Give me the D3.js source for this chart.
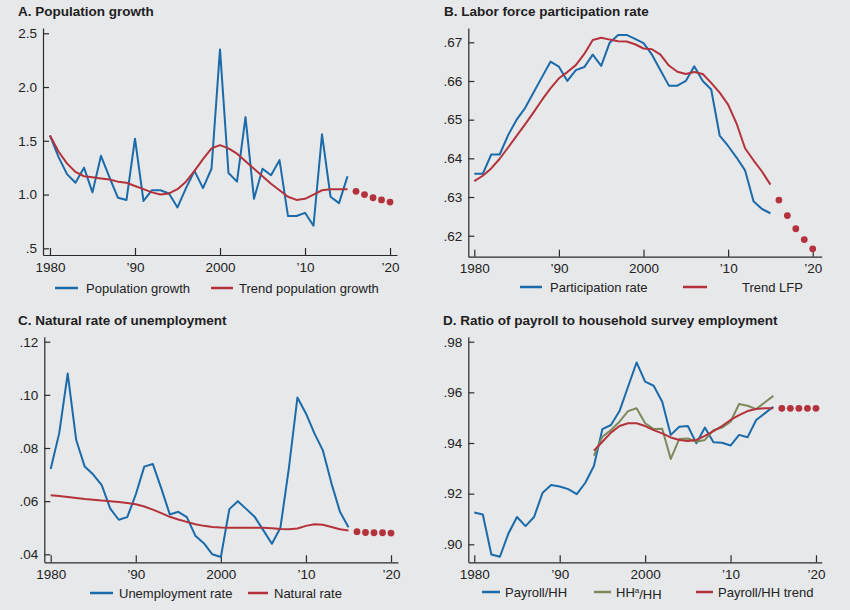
<!DOCTYPE html>
<html lang="en">
<head>
  <meta charset="UTF-8">
  <title>Population, LFP, natural rate, payroll/HH</title>
  <style>
    body { margin: 0; background: #e7e8ea; }
    svg { display: block; background: #e7e8ea; font-family: "Liberation Sans", Arial, sans-serif; }
    .title { font-size: 13.5px; font-weight: bold; fill: #1e1e1e; }
    .axis path, .axis line { stroke: #2a2a2a; stroke-width: 1.2; }
    .axis text { font-size: 13.5px; fill: #222; font-family: "Liberation Sans", Arial, sans-serif; }
    .legend text { font-size: 13px; fill: #222; }
    .series { fill: none; stroke-width: 2; stroke-linejoin: round; }
  </style>
</head>
<body>
  <svg width="850" height="610"></svg>

  <script src="https://d3js.org/d3.v7.min.js"></script>
  <script>
    // years shared by the historical series
    const years = [1980, 1981, 1982, 1983, 1984, 1985, 1986, 1987, 1988, 1989,
      1990, 1991, 1992, 1993, 1994, 1995, 1996, 1997, 1998, 1999,
      2000, 2001, 2002, 2003, 2004, 2005, 2006, 2007, 2008, 2009,
      2010, 2011, 2012, 2013, 2014, 2015];
    const projYears = [2016, 2017, 2018, 2019, 2020];
    const yearsHHa = [1994, 1995, 1996, 1997, 1998, 1999, 2000, 2001, 2002, 2003, 2004,
      2005, 2006, 2007, 2008, 2009, 2010, 2011, 2012, 2013, 2014, 2015];
    const xTicks = [1980, 1990, 2000, 2010, 2020];
    const xTickLabels = ["1980", "\u201990", "2000", "\u201910", "\u201920"];

    // A. population growth
    const popGrowth = [1.55, 1.35, 1.19, 1.11, 1.25, 1.02, 1.36, 1.16, 0.97, 0.95,
      1.52, 0.94, 1.04, 1.04, 1.01, 0.88, 1.06, 1.22, 1.06, 1.24,
      2.35, 1.20, 1.12, 1.72, 0.96, 1.24, 1.18, 1.32, 0.80, 0.80,
      0.83, 0.71, 1.56, 0.98, 0.92, 1.17];
    const popTrend = [1.55, 1.40, 1.29, 1.21, 1.17, 1.16, 1.15, 1.14, 1.12, 1.11,
      1.08, 1.05, 1.02, 1.00, 1.01, 1.05, 1.12, 1.22, 1.33, 1.43,
      1.46, 1.43, 1.38, 1.31, 1.24, 1.17, 1.10, 1.04, 0.98, 0.95,
      0.96, 1.00, 1.04, 1.05, 1.05, 1.05];
    const popProj = [1.03, 1.00, 0.97, 0.95, 0.93];
    const popTicks = [0.5, 1.0, 1.5, 2.0, 2.5];

    // B. labor force participation rate
    const lfp = [.636, .636, .641, .641, .646, .650, .653, .657, .661, .665,
      .6637, .660, .6628, .6636, .6668, .6639, .6699, .6719, .6719, .6709,
      .6698, .6668, .6628, .6588, .6588, .660, .6638, .660, .6578, .6459,
      .6432, .6402, .6369, .6289, .6269, .6258];
    const lfpTrend = [.6341, .6355, .6374, .6399, .6428, .6458, .6488, .6519, .6551, .6581,
      .6607, .6623, .6641, .6670, .6706, .6712, .6707, .6703, .6702, .6695,
      .6684, .6682, .6668, .6640, .6624, .6618, .6623, .6618, .6595, .6570,
      .6539, .6490, .6426, .6395, .6366, .6332];
    const lfpProj = [.6292, .6252, .6218, .6190, .6166];
    const lfpTicks = [.62, .63, .64, .65, .66, .67];

    // C. natural rate of unemployment
    const unemp = [.0721, .0855, .108, .083, .073, .070, .066, .0572, .053, .054,
      .0625, .073, .074, .0648, .055, .056, .054, .047, .0442, .040,
      .039, .057, .060, .057, .054, .049, .044, .050, .0725, .099,
      .093, .0855, .0790, .0667, .0560, .0502];
    const natRate = [.0622, .0619, .0616, .0612, .0608, .0605, .0602, .0600, .0597, .0593,
      .0588, .0580, .0568, .0555, .0541, .0531, .0522, .0513, .0507, .0503,
      .0501, .0500, .0500, .0500, .0500, .0500, .0498, .0495, .0494, .0497,
      .0507, .0513, .0511, .0503, .0494, .0490];
    const natProj = [.0485, .0482, .0481, .0481, .0480];
    const unempTicks = [.04, .06, .08, .10, .12];

    // D. ratio of payroll to household survey employment
    const payrollHH = [.9126, .9118, .8960, .8951, .9043, .9108, .9072, .9108, .9204, .9234,
      .9228, .9218, .9198, .9243, .9309, .9455, .9471, .9526, .9622, .9718,
      .9642, .9626, .9563, .9432, .9464, .9467, .9399, .9461, .9403, .9401,
      .9390, .9432, .9423, .9491, .9517, .9543];
    const hhaHH = [.9350, .9425, .9451, .9484, .9526, .9537, .9478, .9455, .9456, .9337, .9416,
      .9418, .9405, .9412, .9451, .9461, .9484, .9554, .9547, .9534, .9560, .9586];
    const payrollTrend = [.9370, .9405, .9441, .9467, .9478, .9478, .9467, .9451, .9438, .9422, .9412,
      .9408, .9412, .9428, .9447, .9467, .9491, .9510, .9526, .9534, .9537, .9537];
    const payrollProj = [.9537, .9537, .9537, .9537, .9537];
    const ratioTicks = [.90, .92, .94, .96, .98];

    const blue = "#1b6aa9", red = "#b3323b", green = "#7c8a5b";
    const svg = d3.select("svg");

    const zip = (xs, ys) => xs.map((x, i) => [x, ys[i]]);
    const dropZero = v => d3.format(".2f")(v).replace(/^0/, "");

    const panels = [
      {
        title: "A. Population growth", titleX: 18, titleY: 16,
        xDomain: [1979.18, 2020.82], xRange: [43, 397],
        yDomain: [0.4377, 2.549], yRange: [255, 28],
        yTicks: popTicks, yFmt: v => v === 0.5 ? ".5" : d3.format(".1f")(v),
        lines: [
          { xs: years, ys: popGrowth, color: blue },
          { xs: years, ys: popTrend, color: red }
        ],
        dots: { xs: projYears, ys: popProj },
        legendY: 288,
        legend: [
          { x1: 55, x2: 78, tx: 86, color: blue, label: ["Population growth"] },
          { x1: 211, x2: 233, tx: 239, color: red, label: ["Trend population growth"] }
        ]
      },
      {
        title: "B. Labor force participation rate", titleX: 444, titleY: 16,
        xDomain: [1979.29, 2021.06], xRange: [468.3, 821.7],
        yDomain: [.61457, .6737], yRange: [256.7, 28],
        yTicks: lfpTicks, yFmt: dropZero,
        lines: [
          { xs: years, ys: lfp, color: blue },
          { xs: years, ys: lfpTrend, color: red }
        ],
        dots: { xs: projYears, ys: lfpProj },
        legendY: 287,
        legend: [
          { x1: 520, x2: 542, tx: 550, color: blue, label: ["Participation rate"] },
          { x1: 683, x2: 707, tx: 742, color: red, label: ["Trend LFP"] }
        ]
      },
      {
        title: "C. Natural rate of unemployment", titleX: 18, titleY: 325,
        xDomain: [1979.25, 2020.82], xRange: [44.3, 398],
        yDomain: [.03699, .12188], yRange: [562.3, 336.7],
        yTicks: unempTicks, yFmt: dropZero,
        lines: [
          { xs: years, ys: unemp, color: blue },
          { xs: years, ys: natRate, color: red }
        ],
        dots: { xs: projYears, ys: natProj },
        legendY: 593,
        legend: [
          { x1: 90, x2: 113, tx: 119, color: blue, label: ["Unemployment rate"] },
          { x1: 248, x2: 268, tx: 274, color: red, label: ["Natural rate"] }
        ]
      },
      {
        title: "D. Ratio of payroll to household survey employment", titleX: 443, titleY: 325,
        xDomain: [1979.3, 2020.67], xRange: [468.3, 821.7],
        yDomain: [.8929, .98197], yRange: [562.3, 336.7],
        yTicks: ratioTicks, yFmt: dropZero,
        lines: [
          { xs: years, ys: payrollHH, color: blue },
          { xs: yearsHHa, ys: hhaHH, color: green },
          { xs: yearsHHa, ys: payrollTrend, color: red }
        ],
        dots: { xs: projYears, ys: payrollProj },
        legendY: 592,
        legend: [
          { x1: 482, x2: 500, tx: 505, color: blue, label: ["Payroll/HH"] },
          { x1: 594, x2: 611, tx: 616, color: green, label: ["HH", "a", "/HH"] },
          { x1: 696, x2: 713, tx: 718, color: red, label: ["Payroll/HH trend"] }
        ]
      }
    ];

    panels.forEach(p => {
      const g = svg.append("g");
      const x = d3.scaleLinear().domain(p.xDomain).range(p.xRange);
      const y = d3.scaleLinear().domain(p.yDomain).range(p.yRange);

      g.append("text").attr("class", "title")
        .attr("x", p.titleX).attr("y", p.titleY).text(p.title);

      g.append("g").attr("class", "axis")
        .attr("transform", `translate(0,${p.yRange[0]})`)
        .call(d3.axisBottom(x).tickValues(xTicks)
          .tickFormat((d, i) => xTickLabels[i])
          .tickSize(-7).tickSizeOuter(0).tickPadding(7));

      g.append("g").attr("class", "axis")
        .attr("transform", `translate(${p.xRange[0]},0)`)
        .call(d3.axisLeft(y).tickValues(p.yTicks).tickFormat(p.yFmt)
          .tickSize(-6).tickSizeOuter(0).tickPadding(6));

      const line = d3.line().x(d => x(d[0])).y(d => y(d[1]));
      p.lines.forEach(s => {
        g.append("path").attr("class", "series")
          .attr("stroke", s.color)
          .attr("d", line(zip(s.xs, s.ys)));
      });

      g.selectAll("circle.proj")
        .data(zip(p.dots.xs, p.dots.ys))
        .enter().append("circle")
        .attr("class", "proj")
        .attr("cx", d => x(d[0]))
        .attr("cy", d => y(d[1]))
        .attr("r", 3.4)
        .attr("fill", red);

      const lg = g.append("g").attr("class", "legend");
      p.legend.forEach(item => {
        lg.append("line")
          .attr("x1", item.x1).attr("x2", item.x2)
          .attr("y1", p.legendY).attr("y2", p.legendY)
          .attr("stroke", item.color).attr("stroke-width", 2.5);
        const t = lg.append("text")
          .attr("x", item.tx).attr("y", p.legendY).attr("dy", "0.35em");
        if (item.label.length === 1) {
          t.text(item.label[0]);
        } else {
          t.append("tspan").text(item.label[0]);
          t.append("tspan").attr("dy", "-0.45em").attr("font-size", "8px").text(item.label[1]);
          t.append("tspan").attr("dy", "0.45em").text(item.label[2]);
        }
      });
    });
  </script>
</body>
</html>
